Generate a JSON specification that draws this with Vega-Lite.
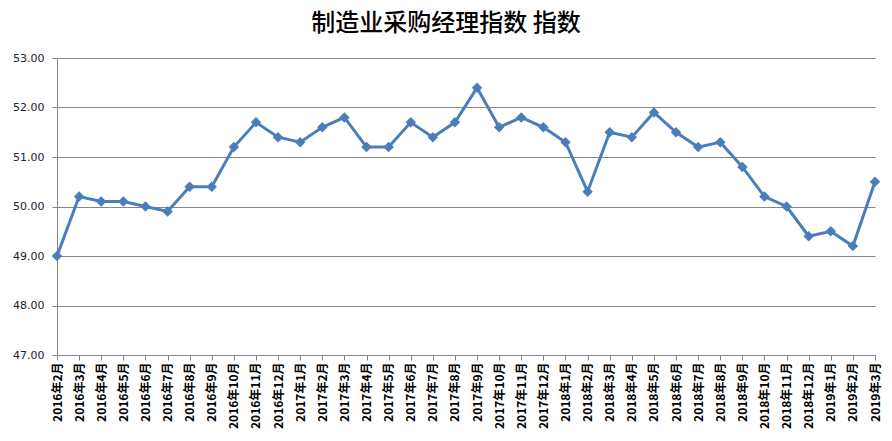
{
  "$schema": "https://vega.github.io/schema/vega-lite/v6.json",
  "width": 818,
  "height": 297,
  "autosize": "none",
  "padding": {"left": 57, "top": 58, "right": 17, "bottom": 86},
  "background": "#ffffff",
  "title": {
    "text": "制造业采购经理指数 指数",
    "font": "Noto Sans CJK SC",
    "fontSize": 24,
    "fontWeight": 500,
    "color": "#000000",
    "anchor": "middle",
    "dx": -20,
    "offset": 16
  },
  "data": {
    "values": [
      {"month": "2016年2月", "pmi": 49.0},
      {"month": "2016年3月", "pmi": 50.2},
      {"month": "2016年4月", "pmi": 50.1},
      {"month": "2016年5月", "pmi": 50.1},
      {"month": "2016年6月", "pmi": 50.0},
      {"month": "2016年7月", "pmi": 49.9},
      {"month": "2016年8月", "pmi": 50.4},
      {"month": "2016年9月", "pmi": 50.4},
      {"month": "2016年10月", "pmi": 51.2},
      {"month": "2016年11月", "pmi": 51.7},
      {"month": "2016年12月", "pmi": 51.4},
      {"month": "2017年1月", "pmi": 51.3},
      {"month": "2017年2月", "pmi": 51.6},
      {"month": "2017年3月", "pmi": 51.8},
      {"month": "2017年4月", "pmi": 51.2},
      {"month": "2017年5月", "pmi": 51.2},
      {"month": "2017年6月", "pmi": 51.7},
      {"month": "2017年7月", "pmi": 51.4},
      {"month": "2017年8月", "pmi": 51.7},
      {"month": "2017年9月", "pmi": 52.4},
      {"month": "2017年10月", "pmi": 51.6},
      {"month": "2017年11月", "pmi": 51.8},
      {"month": "2017年12月", "pmi": 51.6},
      {"month": "2018年1月", "pmi": 51.3},
      {"month": "2018年2月", "pmi": 50.3},
      {"month": "2018年3月", "pmi": 51.5},
      {"month": "2018年4月", "pmi": 51.4},
      {"month": "2018年5月", "pmi": 51.9},
      {"month": "2018年6月", "pmi": 51.5},
      {"month": "2018年7月", "pmi": 51.2},
      {"month": "2018年8月", "pmi": 51.3},
      {"month": "2018年9月", "pmi": 50.8},
      {"month": "2018年10月", "pmi": 50.2},
      {"month": "2018年11月", "pmi": 50.0},
      {"month": "2018年12月", "pmi": 49.4},
      {"month": "2019年1月", "pmi": 49.5},
      {"month": "2019年2月", "pmi": 49.2},
      {"month": "2019年3月", "pmi": 50.5}
    ]
  },
  "config": {
    "view": {"stroke": null},
    "axis": {
      "domainColor": "#868686",
      "tickColor": "#868686",
      "gridColor": "#868686",
      "title": null
    }
  },
  "mark": {
    "type": "line",
    "color": "#4a7ebb",
    "strokeWidth": 3,
    "point": {"shape": "diamond", "size": 110, "filled": true, "color": "#4a7ebb", "opacity": 1}
  },
  "encoding": {
    "x": {
      "field": "month",
      "type": "ordinal",
      "sort": null,
      "scale": {"type": "point", "padding": 0},
      "axis": {
        "labelAngle": -90,
        "labelFont": "Noto Sans CJK SC",
        "labelFontSize": 12,
        "labelFontWeight": "bold",
        "labelColor": "#000000",
        "labelPadding": 2,
        "tickSize": 5,
        "grid": false,
        "domainWidth": 1
      }
    },
    "y": {
      "field": "pmi",
      "type": "quantitative",
      "scale": {"domain": [47, 53], "nice": false, "zero": false},
      "axis": {
        "values": [47, 48, 49, 50, 51, 52, 53],
        "format": ".2f",
        "labelFont": "DejaVu Sans",
        "labelFontSize": 11,
        "labelColor": "#222222",
        "labelPadding": 8,
        "tickSize": 5,
        "grid": true,
        "gridWidth": 1
      }
    }
  }
}
